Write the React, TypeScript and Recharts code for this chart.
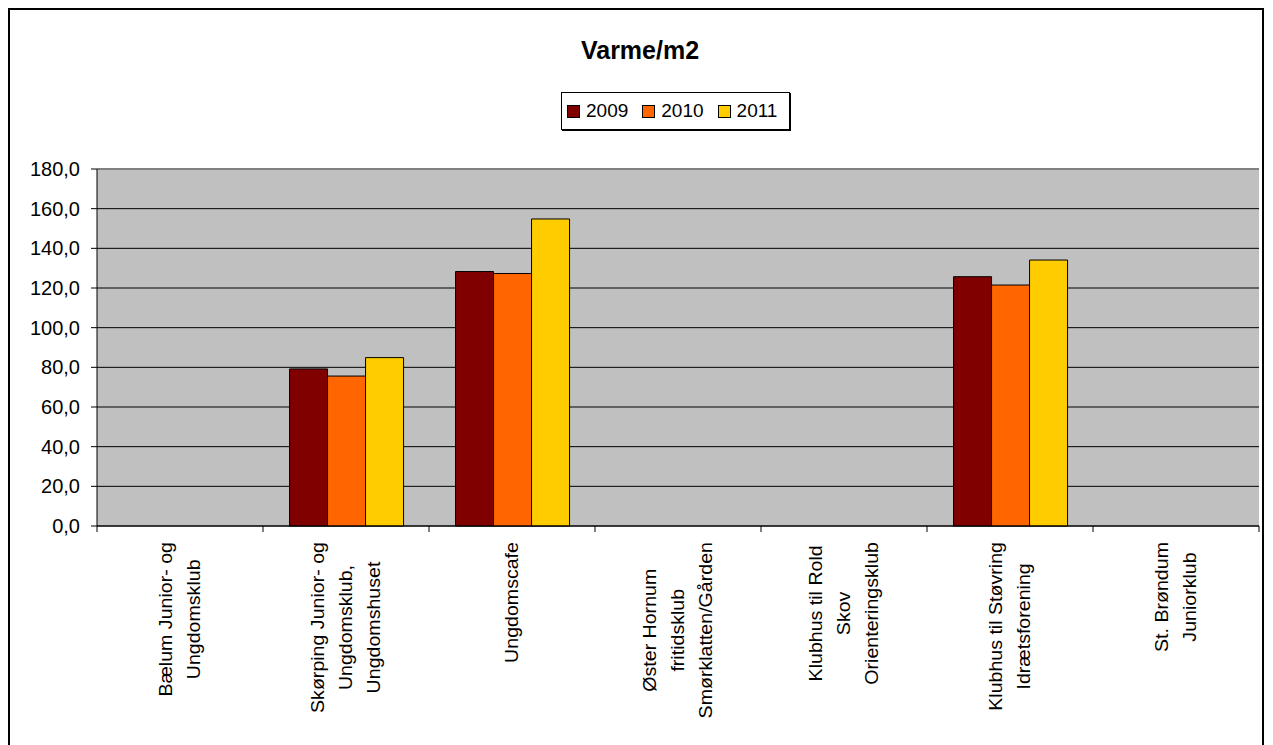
import React from 'react';
import { BarChart, Bar, XAxis, YAxis, CartesianGrid, Legend, ReferenceLine } from 'recharts';

const FONT = "'Liberation Sans', Arial, sans-serif";

const categories = [
  'Bælum Junior- og\nUngdomsklub',
  'Skørping Junior- og\nUngdomsklub,\nUngdomshuset',
  'Ungdomscafe',
  'Øster Hornum\nfritidsklub\nSmørklatten/Gården',
  'Klubhus til Rold\nSkov\nOrienteringsklub',
  'Klubhus til Støvring\nIdrætsforening',
  'St. Brøndum\nJuniorklub',
];

const series = ['2009', '2010', '2011'];
const colors = ['#800000', '#FF6600', '#FFCC00'];

const values2009 = [null, 79.2, 128.3, null, null, 125.7, null];
const values2010 = [null, 75.6, 127.3, null, null, 121.5, null];
const values2011 = [null, 84.9, 154.8, null, null, 134.1, null];

const yTicks = [0, 20, 40, 60, 80, 100, 120, 140, 160, 180];

const data = categories.map((c, i) => ({
  name: c,
  '2009': values2009[i],
  '2010': values2010[i],
  '2011': values2011[i],
}));

const LABEL_SIZE = 17.5;
const STRETCH = 1.12;
const LINE_H = 28;

let ctx: CanvasRenderingContext2D | null = null;
function measure(t: string, size: number): number {
  if (!ctx) ctx = document.createElement('canvas').getContext('2d');
  if (!ctx) return t.length * size * 0.5;
  ctx.font = `${size}px 'Liberation Sans', Arial, sans-serif`;
  return ctx.measureText(t).width;
}

const XTick = (props: any) => {
  const { x, y, payload, index, visibleTicksCount } = props;
  const half = payload && typeof payload.offset === 'number' && payload.offset > 0 ? payload.offset : 83;
  const lines = String(payload.value).split('\n');
  const maxW = Math.max(...lines.map((l) => measure(l, LABEL_SIZE))) * STRETCH;
  const cy = y + 16 + maxW / 2;
  const n = lines.length;
  return (
    <g>
      <line x1={x - half} x2={x - half} y1={y} y2={y + 6} stroke="#000" strokeWidth={1} />
      {index === visibleTicksCount - 1 && (
        <line x1={x + half} x2={x + half} y1={y} y2={y + 6} stroke="#000" strokeWidth={1} />
      )}
      {lines.map((l, i) => {
        const lx = x + (i - (n - 1) / 2) * LINE_H;
        return (
          <text
            key={i}
            x={lx}
            y={cy}
            transform={`rotate(-90, ${lx}, ${cy}) translate(${lx}, ${cy}) scale(${STRETCH}, 1) translate(${-lx}, ${-cy})`}
            textAnchor="middle"
            dominantBaseline="central"
            fontSize={LABEL_SIZE}
            fontFamily={FONT}
            fill="#000"
          >
            {l}
          </text>
        );
      })}
    </g>
  );
};

const LegendContent = (props: any) => {
  const { payload } = props;
  return (
    <div
      style={{
        boxSizing: 'border-box',
        width: 229,
        height: 38,
        border: '1.5px solid #000',
        boxShadow: '1px 1px 0 #000',
        background: '#fff',
        display: 'flex',
        alignItems: 'center',
        paddingLeft: 5,
        fontFamily: FONT,
        fontSize: 19,
        color: '#000',
      }}
    >
      {(payload || []).map((entry: any, i: number) => (
        <div key={i} style={{ display: 'flex', alignItems: 'center', marginRight: 14 }}>
          <span
            style={{
              display: 'inline-block',
              boxSizing: 'border-box',
              width: 13,
              height: 13,
              border: '1px solid #000',
              background: entry.color,
              marginRight: 6,
            }}
          />
          <span>{entry.value}</span>
        </div>
      ))}
    </div>
  );
};

export default function App() {
  return (
    <div
      style={{
        position: 'fixed',
        left: 0,
        top: 0,
        width: 1273,
        height: 745,
        background: '#fff',
        overflow: 'hidden',
      }}
    >
      <div
        style={{
          position: 'absolute',
          left: 8,
          top: 8,
          width: 1256,
          height: 760,
          boxSizing: 'border-box',
          borderLeft: '2px solid #000',
          borderTop: '2px solid #000',
          borderRight: '2px solid #000',
        }}
      />
      <div
        style={{
          position: 'absolute',
          left: 640,
          top: 38,
          transform: 'translateX(-50%)',
          fontFamily: FONT,
          fontWeight: 'bold',
          fontSize: 25,
          lineHeight: '25px',
          whiteSpace: 'nowrap',
          color: '#000',
        }}
      >
        Varme/m2
      </div>
      <div style={{ position: 'absolute', left: 0, top: 0 }}>
        <BarChart
          width={1273}
          height={745}
          data={data}
          margin={{ top: 169, right: 14, bottom: 0, left: 37 }}
          barCategoryGap="16%"
          barGap={0}
        >
          <CartesianGrid
            vertical={false}
            horizontal={true}
            fill="#C0C0C0"
            stroke="#000"
            strokeWidth={1}
          />
          <XAxis
            dataKey="name"
            interval={0}
            height={219}
            tickSize={0}
            tickMargin={0}
            tickLine={false}
            axisLine={{ stroke: '#000', strokeWidth: 1 }}
            tick={<XTick />}
          />
          <YAxis
            domain={[0, 180]}
            ticks={yTicks}
            width={60}
            tickSize={6}
            tickMargin={11}
            axisLine={{ stroke: '#000', strokeWidth: 1 }}
            tickLine={{ stroke: '#000', strokeWidth: 1 }}
            tick={{ fill: '#000', fontSize: 20, fontFamily: FONT }}
            tickFormatter={(v: number) => v.toFixed(1).replace('.', ',')}
          />
          <ReferenceLine y={180} stroke="#808080" strokeWidth={2} ifOverflow="visible" />
          <Legend
            verticalAlign="middle"
            align="center"
            layout="horizontal"
            wrapperStyle={{ left: 561, top: 92, width: 229, height: 38 }}
            content={<LegendContent />}
          />
          {series.map((s, i) => (
            <Bar
              key={s}
              dataKey={s}
              name={s}
              fill={colors[i]}
              stroke="#000"
              strokeWidth={1}
              isAnimationActive={false}
            />
          ))}
        </BarChart>
      </div>
    </div>
  );
}
